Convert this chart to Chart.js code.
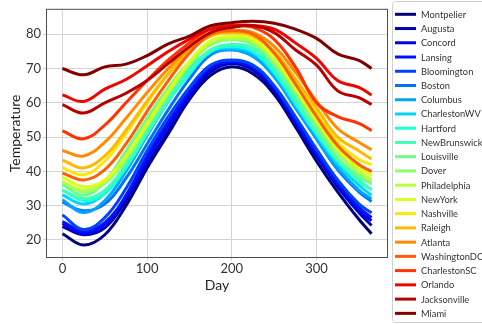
<!DOCTYPE html>
<html>
<head>
<meta charset="utf-8">
<script src="https://cdn.jsdelivr.net/npm/chart.js@4.4.0/dist/chart.umd.min.js"></script>
<style>
  html, body { margin: 0; padding: 0; background: #fff; }
  canvas { display: block; }
</style>
</head>
<body>
<canvas id="chart" width="482" height="324"></canvas>
<script>
// sample days (x) and mean temperatures
const days = [0, 25, 50, 75, 100, 125, 150, 175, 200, 225, 250, 275, 300, 325, 350, 365];

const cities = ['Montpelier', 'Augusta', 'Concord', 'Lansing', 'Bloomington', 'Boston', 'Columbus',
  'CharlestonWV', 'Hartford', 'NewBrunswick', 'Louisville', 'Dover', 'Philadelphia', 'NewYork',
  'Nashville', 'Raleigh', 'Atlanta', 'WashingtonDC', 'CharlestonSC', 'Orlando', 'Jacksonville', 'Miami'];

const montpelier   = [21.8, 18.5, 21.5, 30.0, 41.0, 51.0, 61.0, 68.0, 70.5, 68.5, 62.5, 53.0, 43.0, 34.0, 26.0, 21.8];
const augusta      = [23.9, 21.5, 23.5, 31.5, 42.0, 52.0, 61.5, 69.0, 71.5, 69.5, 63.5, 54.0, 44.5, 35.5, 28.0, 24.2];
const concord      = [24.8, 22.0, 24.5, 32.5, 43.5, 53.5, 62.5, 70.0, 72.0, 70.0, 64.0, 54.5, 45.0, 36.0, 28.5, 25.6];
const lansing      = [25.3, 22.5, 25.0, 33.0, 44.5, 54.5, 63.5, 70.5, 72.0, 70.5, 64.5, 55.0, 45.5, 36.5, 29.5, 26.5];
const bloomington  = [27.3, 23.0, 26.5, 35.0, 46.0, 56.0, 64.5, 71.0, 72.5, 71.0, 65.0, 56.0, 46.5, 37.5, 30.5, 27.9];
const boston       = [31.0, 28.5, 30.5, 38.0, 48.0, 58.0, 67.0, 74.0, 75.5, 74.0, 68.0, 59.0, 49.5, 40.5, 34.0, 31.2];
const columbus     = [31.7, 28.0, 31.5, 40.0, 50.5, 60.5, 69.0, 74.5, 75.5, 73.5, 67.5, 58.5, 49.5, 41.0, 34.5, 32.0];
const charlestonWV = [33.1, 30.5, 33.5, 42.0, 52.5, 62.0, 70.0, 75.0, 76.0, 74.5, 68.5, 59.5, 50.5, 42.0, 36.0, 33.0];
const hartford     = [34.5, 31.5, 33.5, 41.0, 51.0, 60.5, 68.5, 75.0, 76.5, 75.0, 69.0, 60.0, 51.0, 43.0, 37.0, 34.6];
const newBrunswick = [34.5, 32.0, 34.5, 42.0, 51.5, 61.0, 69.5, 75.5, 77.0, 76.0, 70.0, 61.0, 51.5, 43.5, 37.5, 34.6];
const louisville   = [36.2, 33.0, 37.0, 46.0, 55.5, 64.5, 72.0, 77.0, 78.5, 77.0, 71.5, 62.5, 53.0, 44.0, 38.5, 36.4];
const dover        = [36.9, 34.0, 36.5, 43.5, 53.0, 62.5, 71.0, 77.0, 78.5, 77.5, 72.0, 63.5, 54.0, 45.5, 39.5, 37.0];
const philadelphia = [36.9, 34.5, 37.0, 44.5, 54.0, 63.5, 72.0, 78.0, 79.0, 78.0, 72.5, 64.0, 54.5, 46.0, 40.0, 37.5];
const newYork      = [38.3, 35.5, 37.5, 44.5, 54.0, 63.5, 72.0, 78.0, 79.5, 78.5, 73.0, 64.5, 55.0, 46.5, 41.0, 38.8];
const nashville    = [41.1, 39.0, 43.0, 51.0, 60.0, 68.5, 75.5, 79.5, 80.5, 79.5, 74.5, 66.0, 57.0, 48.5, 43.5, 42.0];
const raleigh      = [43.3, 41.0, 44.5, 52.0, 60.5, 68.5, 75.0, 79.5, 80.5, 79.5, 75.0, 67.0, 58.5, 50.0, 46.0, 43.6];
const atlanta      = [46.1, 44.5, 48.5, 55.5, 63.0, 70.0, 76.0, 80.0, 81.0, 80.5, 76.5, 69.0, 60.5, 52.5, 48.5, 46.3];
const washingtonDC = [39.5, 37.5, 40.5, 48.0, 57.5, 66.5, 74.5, 80.0, 81.0, 80.0, 74.5, 65.5, 56.0, 47.5, 42.0, 39.9];
const charlestonSC = [51.8, 49.5, 53.5, 60.0, 66.5, 72.5, 77.5, 81.5, 82.5, 82.0, 78.5, 70.5, 60.0, 56.0, 54.0, 51.9];
const orlando      = [62.3, 60.4, 64.0, 66.8, 70.8, 75.0, 78.6, 81.5, 82.5, 82.6, 81.5, 77.5, 73.0, 66.5, 64.5, 62.3];
const jacksonville = [59.5, 57.0, 60.0, 62.8, 66.5, 71.5, 76.4, 80.5, 82.0, 82.5, 80.5, 75.5, 71.0, 63.5, 61.5, 59.5];
const miami        = [70.0, 68.2, 70.5, 71.3, 73.8, 77.2, 79.5, 82.5, 83.4, 83.8, 83.2, 81.5, 78.8, 74.3, 72.4, 70.0];

const series = [montpelier, augusta, concord, lansing, bloomington, boston, columbus, charlestonWV,
  hartford, newBrunswick, louisville, dover, philadelphia, newYork, nashville, raleigh, atlanta,
  washingtonDC, charlestonSC, orlando, jacksonville, miami];

const xTicks = [0, 100, 200, 300];
const yTicks = [20, 30, 40, 50, 60, 70, 80];

// matplotlib "jet" colormap
function jet(t) {
  const seg = pts => {
    for (let i = 1; i < pts.length; i++) {
      if (t <= pts[i][0]) {
        const [x0, y0] = pts[i - 1], [x1, y1] = pts[i];
        return y0 + (y1 - y0) * (t - x0) / (x1 - x0);
      }
    }
    return pts[pts.length - 1][1];
  };
  const r = seg([[0, 0], [0.35, 0], [0.66, 1], [0.89, 1], [1, 0.5]]);
  const g = seg([[0, 0], [0.125, 0], [0.375, 1], [0.64, 1], [0.91, 0], [1, 0]]);
  const b = seg([[0, 0.5], [0.11, 1], [0.34, 1], [0.65, 0], [1, 0]]);
  return `rgb(${Math.round(r * 255)},${Math.round(g * 255)},${Math.round(b * 255)})`;
}

const font = 'Lato';

const frame = {
  id: 'frame',
  afterDraw(chart) {
    const { ctx, chartArea: a } = chart;
    ctx.save();
    ctx.strokeStyle = '#4d4d4d';
    ctx.lineWidth = 1;
    ctx.strokeRect(a.left - 0.5, a.top - 0.5, a.right - a.left + 1, a.bottom - a.top + 1);
    ctx.restore();
  }
};

const legendBox = {
  id: 'legendBox',
  afterDraw(chart) {
    const ctx = chart.ctx;
    ctx.save();
    ctx.fillStyle = '#fff';
    ctx.strokeStyle = '#d0d0d0';
    ctx.lineWidth = 1;
    ctx.beginPath();
    ctx.roundRect(392.5, 1.5, 100, 321, 3);
    ctx.fill();
    ctx.stroke();
    ctx.font = '9.3px ' + font;
    ctx.textBaseline = 'middle';
    chart.data.datasets.forEach((ds, i) => {
      const y = 14.3 + i * 14.24;
      ctx.strokeStyle = ds.borderColor;
      ctx.lineWidth = 3;
      ctx.beginPath();
      ctx.moveTo(395, y);
      ctx.lineTo(416, y);
      ctx.stroke();
      ctx.fillStyle = '#333';
      ctx.fillText(ds.label, 421, y + 0.5);
    });
    ctx.restore();
  }
};

new Chart(document.getElementById('chart'), {
  type: 'line',
  data: {
    datasets: cities.map((name, i) => ({
      label: name,
      data: days.map((d, j) => ({ x: d, y: series[i][j] })),
      borderColor: jet(i / (cities.length - 1)),
      borderWidth: 3,
      pointRadius: 0,
      tension: 0.4,
      fill: false,
      order: cities.length - i
    }))
  },
  options: {
    responsive: false,
    animation: false,
    layout: { padding: { left: 0, right: 95, top: 2, bottom: 0 } },
    plugins: { legend: { display: false }, tooltip: { enabled: false } },
    scales: {
      x: {
        type: 'linear',
        min: -18.25,
        max: 383.25,
        afterBuildTicks: s => { s.ticks = xTicks.map(v => ({ value: v })); },
        afterFit: s => { s.height = 67; },
        grid: { color: '#d4d4d4', lineWidth: 1, tickLength: 4 },
        border: { display: false },
        ticks: { color: '#333', font: { family: font, size: 13 }, padding: 0, maxRotation: 0 },
        title: { display: true, text: 'Day', color: '#222', font: { family: font, size: 14 }, padding: { top: 0, bottom: 30 } }
      },
      y: {
        min: 15.0,
        max: 87.15,
        afterBuildTicks: s => { s.ticks = yTicks.map(v => ({ value: v })); },
        afterFit: s => { s.width = 47; },
        grid: { color: '#d4d4d4', lineWidth: 1, tickLength: 4 },
        border: { display: false },
        ticks: { color: '#333', font: { family: font, size: 13 }, padding: 2 },
        title: { display: true, text: 'Temperature', color: '#222', font: { family: font, size: 14 }, padding: { top: 7, bottom: 0 } }
      }
    }
  },
  plugins: [frame, legendBox]
});
</script>
</body>
</html>
